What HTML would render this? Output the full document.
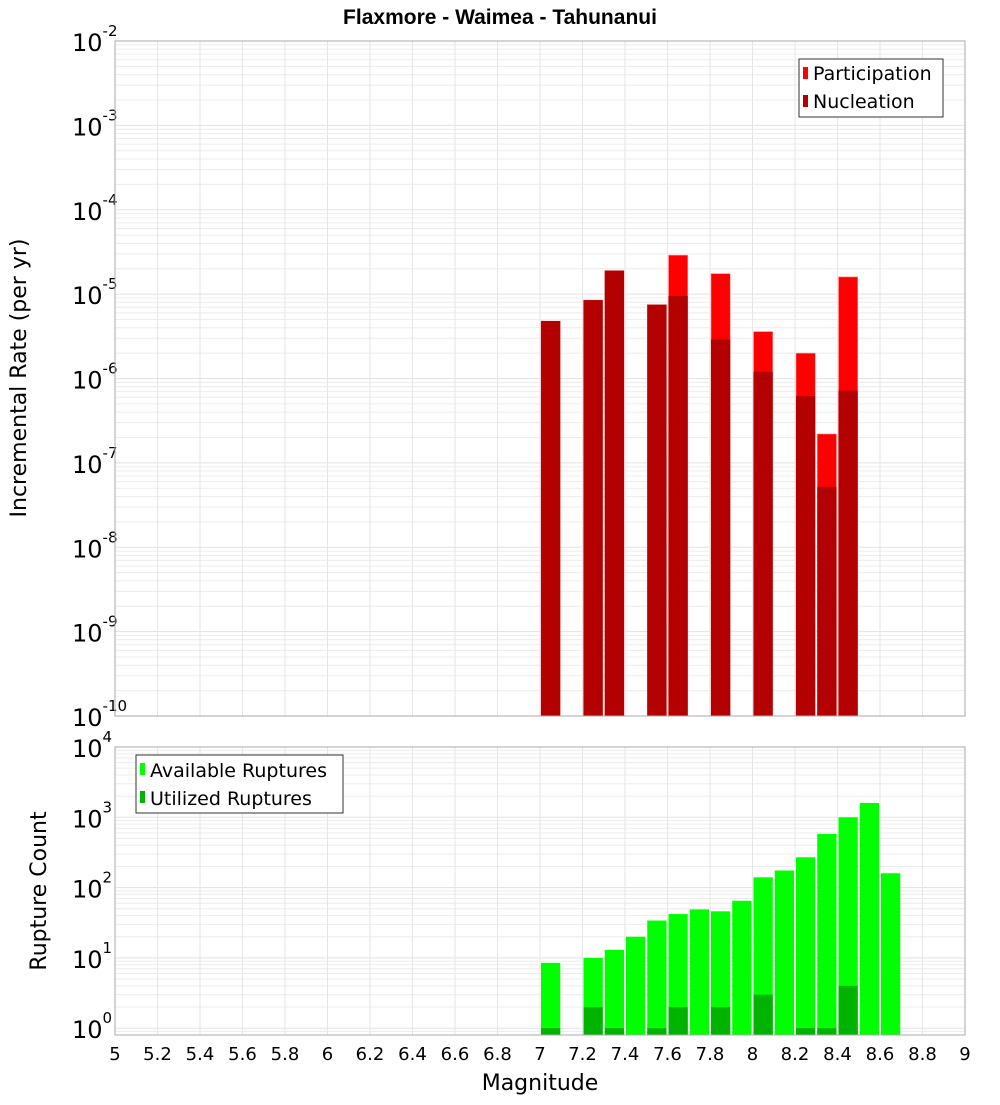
<!DOCTYPE html>
<html><head><meta charset="utf-8">
<style>
body{margin:0;background:#fff;width:1000px;height:1100px;overflow:hidden}
svg{font-family:"Liberation Sans","DejaVu Sans",sans-serif}
</style></head>
<body>
<svg id="chart" width="1000" height="1100" xmlns="http://www.w3.org/2000/svg">
<text x="500" y="24" text-anchor="middle" font-size="21" font-weight="bold">Flaxmore - Waimea - Tahunanui</text>
<text transform="translate(26,378) rotate(-90)" text-anchor="middle" font-size="22" font-family="DejaVu Sans,sans-serif">Incremental Rate (per yr)</text>
<text transform="translate(46,891) rotate(-90)" text-anchor="middle" font-size="22" font-family="DejaVu Sans,sans-serif">Rupture Count</text>
<text x="540" y="1090" text-anchor="middle" font-size="22" font-family="DejaVu Sans,sans-serif">Magnitude</text>
<g id="top"></g><g id="bot"></g>
</svg>
<script>
const ns="http://www.w3.org/2000/svg";
const rateMags=[7.05,7.25,7.35,7.55,7.65,7.85,8.05,8.25,8.35,8.45];
const participation=[4.8e-6,8.5e-6,1.9e-5,7.5e-6,2.9e-5,1.75e-5,3.6e-6,2.0e-6,2.2e-7,1.6e-5];
const nucleation=[4.8e-6,8.5e-6,1.9e-5,7.5e-6,9.5e-6,2.9e-6,1.2e-6,6.2e-7,5.2e-8,7.2e-7];
const countMags=[7.05,7.25,7.35,7.45,7.55,7.65,7.75,7.85,7.95,8.05,8.15,8.25,8.35,8.45,8.55,8.65];
const available=[8.5,10,13,20,34,42,49,46,65,140,175,270,580,1000,1600,160];
const utilized=[1,2,1,0,1,2,0,2,0,3,0,1,1,4,0,0];
const xTicks=[5,5.2,5.4,5.6,5.8,6,6.2,6.4,6.6,6.8,7,7.2,7.4,7.6,7.8,8,8.2,8.4,8.6,8.8,9];
const topExps=[-10,-9,-8,-7,-6,-5,-4,-3,-2];
const botExps=[0,1,2,3,4];

const X0=115,X1=965;
const xs=m=>X0+(m-5)/4*(X1-X0);
function mk(parent,tag,attrs,name,text){
  const e=document.createElementNS(ns,tag);
  for(const k in attrs)e.setAttribute(k,attrs[k]);
  
  
  if(text!==undefined)e.textContent=text;
  parent.appendChild(e);return e;
}
function panel(g,top,bot,dmin,dmax,yOfLog,exps,name){
  const ys=v=>yOfLog(Math.log10(v));
  mk(g,'rect',{x:X0,y:top,width:X1-X0,height:bot-top,fill:'#fff'},name+'-plot-area');
  for(let d=Math.floor(dmin);d<dmax;d++){
    for(let k=1;k<=9;k++){
      const y=ys(k*Math.pow(10,d));
      if(y<top||y>bot)continue;
      mk(g,'line',{x1:X0,x2:X1,y1:y,y2:y,stroke:k==1?'#e2e2e2':'#ececec','stroke-width':1},name+'-grid-h');
    }
  }
  xTicks.forEach(t=>{const x=xs(t);mk(g,'line',{x1:x,x2:x,y1:top,y2:bot,stroke:'#e6e6e6','stroke-width':1},name+'-grid-v');});
  exps.forEach(e=>{
    const y=yOfLog(e);
    const t=mk(g,'text',{x:106,y:y+10,'text-anchor':'end','font-size':24,'font-family':'DejaVu Sans,sans-serif'},name+'-y-tick-label');
    const a=document.createElementNS(ns,'tspan');a.textContent='10';t.appendChild(a);
    const b=document.createElementNS(ns,'tspan');b.setAttribute('dy','-15');b.setAttribute('font-size','15');b.textContent=String(e);t.appendChild(b);
    t.setAttribute('x',72);t.setAttribute('text-anchor','start');
  });
  return ys;
}
// top panel
const gt=document.getElementById('top');
const TT=41,TB=716;
const yTop=l=>TT+(-2-l)/8*(TB-TT);
const ysT=panel(gt,TT,TB,-10,-2,yTop,topExps,'rate');
const bw=(X1-X0)/40;
rateMags.forEach((m,i)=>{
  const x=xs(m)-bw/2+1;
  const yp=ysT(participation[i]);
  mk(gt,'rect',{x:x,y:yp,width:bw-2,height:TB-yp,fill:'#ff0000',stroke:'#ff9a9a','stroke-width':0.6},'participation-bar');
  const yn=ysT(nucleation[i]);
  mk(gt,'rect',{x:x,y:yn,width:bw-2,height:TB-yn,fill:'#b30000'},'nucleation-bar');
});
mk(gt,'rect',{x:X0,y:TT,width:X1-X0,height:TB-TT,fill:'none',stroke:'#aaa'},'rate-plot-border');
const lg=mk(gt,'g',{},'rate-legend');
mk(lg,'rect',{x:799,y:59,width:144,height:58,fill:'#fff',stroke:'#333'},'rate-legend-box');
mk(lg,'rect',{x:803,y:67,width:5,height:12,fill:'#ff0000'},'legend-participation-swatch');
mk(lg,'text',{x:813,y:80,'font-size':19,'font-family':'DejaVu Sans,sans-serif'},'legend-participation','Participation');
mk(lg,'rect',{x:803,y:95,width:5,height:12,fill:'#b30000'},'legend-nucleation-swatch');
mk(lg,'text',{x:813,y:108,'font-size':19,'font-family':'DejaVu Sans,sans-serif'},'legend-nucleation','Nucleation');

// bottom panel
const gb=document.getElementById('bot');
const BT=747,BB=1035;
const yBot=l=>BT+(4-l)*70.3;
const ysB=panel(gb,BT,BB,-1,4,yBot,botExps,'count');
countMags.forEach((m,i)=>{
  const x=xs(m)-bw/2+1;
  const ya=ysB(available[i]);
  mk(gb,'rect',{x:x,y:ya,width:bw-2,height:BB-ya,fill:'#00ff00'},'available-bar');
  if(utilized[i]>0){const yu=ysB(utilized[i]);
  mk(gb,'rect',{x:x,y:yu,width:bw-2,height:BB-yu,fill:'#00b300'},'utilized-bar');}
});
mk(gb,'rect',{x:X0,y:BT,width:X1-X0,height:BB-BT,fill:'none',stroke:'#aaa'},'count-plot-border');
const lb=mk(gb,'g',{},'count-legend');
mk(lb,'rect',{x:136,y:755,width:207,height:58,fill:'#fff',stroke:'#333'},'count-legend-box');
mk(lb,'rect',{x:140,y:763,width:5,height:12,fill:'#00ff00'},'legend-available-swatch');
mk(lb,'text',{x:150,y:777,'font-size':19,'font-family':'DejaVu Sans,sans-serif'},'legend-available','Available Ruptures');
mk(lb,'rect',{x:140,y:791,width:5,height:12,fill:'#00b300'},'legend-utilized-swatch');
mk(lb,'text',{x:150,y:805,'font-size':19,'font-family':'DejaVu Sans,sans-serif'},'legend-utilized','Utilized Ruptures');
xTicks.forEach(t=>{
  mk(gb,'text',{x:xs(t),y:1060,'text-anchor':'middle','font-size':18,'font-family':'DejaVu Sans,sans-serif'},'x-tick-label',String(t));
});
</script>
</body></html>
